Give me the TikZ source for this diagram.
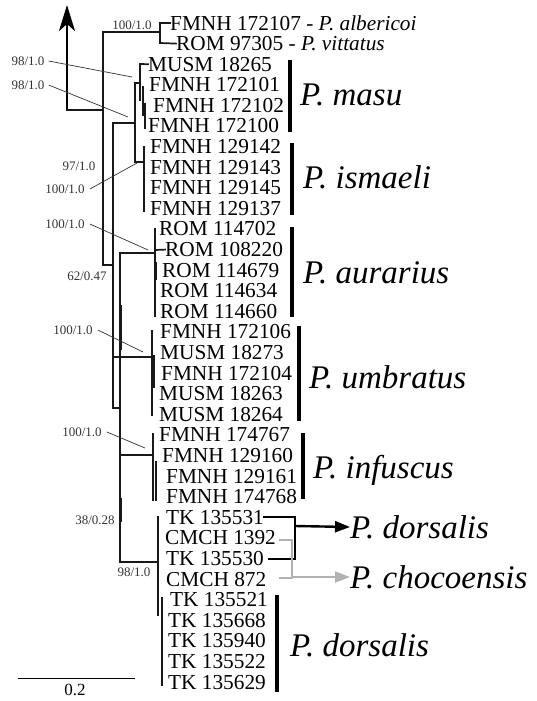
\documentclass[tikz,border=0pt]{standalone}
\usepackage{fontspec}
\setmainfont{Liberation Serif}
\usetikzlibrary{arrows.meta}
\begin{document}
\begin{tikzpicture}[x=1pt,y=-1pt,
  br/.style={line width=1.7pt, line cap=rect, draw=black!90},
  thick br/.style={line width=2.6pt, draw=black!90},
  acc/.style={anchor=west, inner sep=0pt, font=\fontsize{21.3}{21.3}\selectfont},
  sp/.style={anchor=west, inner sep=0pt, font=\fontsize{33}{33}\selectfont\itshape},
  bs/.style={inner sep=0pt, font=\fontsize{13}{13}\selectfont, text=black!80},
  lead/.style={line width=0.7pt, draw=black!80},
  bar/.style={line width=4pt},
]
\useasboundingbox (0,0) rectangle (536,701);
% tip labels
\foreach \x/\i/\t in {
 170/0/{FMNH 172107 - \textit{P. albericoi}},
 176/1/{ROM 97305 - \textit{P. vittatus}},
 148/2/{MUSM 18265}, 149/3/{FMNH 172101}, 153/4/{FMNH 172102}, 148/5/{FMNH 172100},
 150/6/{FMNH 129142}, 150/7/{FMNH 129143}, 150/8/{FMNH 129145}, 150/9/{FMNH 129137},
 159/10/{ROM 114702}, 165/11/{ROM 108220}, 162/12/{ROM 114679}, 160/13/{ROM 114634}, 160/14/{ROM 114660},
 160/15/{FMNH 172106}, 160/16/{MUSM 18273}, 161/17/{FMNH 172104}, 159/18/{MUSM 18263}, 159/19/{MUSM 18264},
 159/20/{FMNH 174767}, 162/21/{FMNH 129160}, 166/22/{FMNH 129161}, 166/23/{FMNH 174768},
 166/24/{TK 135531}, 165/25/{CMCH 1392}, 166/26/{TK 135530}, 166/27/{CMCH 872},
 170/28/{TK 135521}, 168/29/{TK 135668}, 168/30/{TK 135940}, 168/31/{TK 135522}, 168/32/{TK 135629}}
{
  \pgfmathsetmacro{\yy}{23+20.6*\i}
  \node[acc] (t\i) at (\x,\yy) {\t};
}
% backbone
\coordinate (root) at (67,110);
\coordinate (n1) at (103,110);
\draw[line width=2.2pt, -{Stealth[length=26pt,width=16pt,inset=7pt]}] (root) -- (67,5);
\draw[br] (root) -- (n1);
\draw[br] (160,32) -- (103,32) -- (103,265) -- (113,265);
\draw[br] (135,123) -- (113,123) -- (113,408) -- (120,408);
\draw[br] (155,253) -- (120,253) -- (120,562) -- (158,562);
\draw[br] (113,357) -- (152,357);
\draw[br] (120,455) -- (153,455);
\draw[thick br] (121,305) -- (121,350);
\draw[thick br] (121,498) -- (121,522);
% outgroup pair
\draw[br] (t0.west) -- (160,23) -- (160,43) -- (t1.west);
% masu + ismaeli
\draw[br] (140,83) -- (135,83) -- (135,162) -- (144,162);
\draw[br] (t2.west) -- (140,64) -- (140,100);
\draw[thick br] (143,86) -- (143,116);
\draw[br] (145,104) -- (145,128);
\draw[br] (144,147) -- (144,211);
% aurarius
\draw[br] (155,229) -- (155,316);
\draw[br] (155,250) -- (t11.west);
\draw[thick br] (156,262) -- (156,280);
% umbratus
\draw[br] (152,331) -- (152,415);
\draw[thick br] (154,355) -- (154,388);
% infuscus
\draw[br] (153,434) -- (153,500);
\draw[br] (156,462) -- (156,500);
% dorsalis
\draw[br] (158,517) -- (158,615);
\draw[thick br] (158,535) -- (158,600);
\draw[br] (162,598) -- (162,685);
% species bars
\draw[bar] (290,60) -- (290,132);
\draw[bar] (292,143) -- (292,215);
\draw[bar] (292,227) -- (292,317);
\draw[bar] (299,326) -- (299,421);
\draw[bar] (303,433) -- (303,499);
\draw[bar] (277,595) -- (277,692);
% species labels
\node[sp] (masu) at (300,95) {P. masu};
\node[sp] (ism) at (303,177) {P. ismaeli};
\node[sp] (aur) at (303,273) {P. aurarius};
\node[sp] (umb) at (309,377) {P. umbratus};
\node[sp] (inf) at (313,470) {P. infuscus};
\node[sp] (dor1) at (350,527) {P. dorsalis};
\node[sp] (cho) at (350,577) {P. chocoensis};
\node[sp] (dor2) at (290,645) {P. dorsalis};
% dorsalis / chocoensis brackets
\draw[line width=2.4pt] (263,517) -- (295,517) -- (295,559) -- (268,559);
\draw[line width=2.4pt, -{Triangle[length=15pt,width=11pt]}] (295,526) -- (dor1.west);
\draw[line width=2pt, draw=black!30] (279,540) -- (292,540) -- (292,578) -- (279,578);
\draw[line width=2pt, draw=black!30, -{Triangle[length=15pt,width=11pt]}] (292,577) -- (cho.west);
% bootstrap labels
\node[bs] (b1) at (132,25) {100/1.0};
\node[bs] (b2) at (28,61) {98/1.0};
\node[bs] (b3) at (28,85) {98/1.0};
\node[bs] (b4) at (79,166) {97/1.0};
\node[bs] (b5) at (65,189) {100/1.0};
\node[bs] (b6) at (65,224) {100/1.0};
\node[bs] (b7) at (87,276) {62/0.47};
\node[bs] (b8) at (73,330) {100/1.0};
\node[bs] (b9) at (82,432) {100/1.0};
\node[bs] (b10) at (95,520) {38/0.28};
\node[bs] (b11) at (134,572) {98/1.0};
\draw[lead] ([xshift=4pt]b2.east) -- (132,77);
\draw[lead] ([xshift=4pt]b3.east) -- (128,117);
\draw[lead] ([xshift=5pt]b5.east) -- (137,163);
\draw[lead] ([xshift=5pt]b6.east) -- (148,250);
\draw[lead] ([xshift=5pt]b8.east) -- (143,352);
\draw[lead] ([xshift=5pt]b9.east) -- (145,448);
% scale bar
\draw[line width=1pt] (18,678) -- (135,678);
\node[inner sep=0pt, font=\fontsize{17}{17}\selectfont] (scale) at (75,690) {0.2};
\end{tikzpicture}
\end{document}
